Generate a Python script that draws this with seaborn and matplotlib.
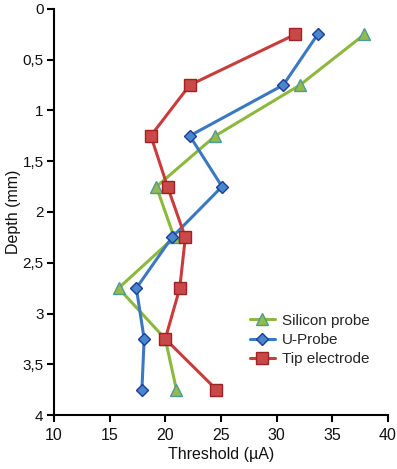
import pandas as pd
import matplotlib
matplotlib.use("Agg")
import matplotlib.pyplot as plt
import seaborn as sns
from matplotlib.ticker import FuncFormatter

# Profundidades (mm) e limiares (uA)
depth = [0.25, 0.75, 1.25, 1.75, 2.25, 2.75, 3.25, 3.75]
silicon = [37.9, 32.1, 24.5, 19.2, 20.8, 15.8, 20.0, 21.0]
uprobe = [33.7, 30.6, 22.2, 25.1, 20.6, 17.4, 18.1, 17.9]
tip = [31.7, 22.2, 18.7, 20.2, 21.8, 21.3, 20.0, 24.6]

series = ["Silicon probe", "U-Probe", "Tip electrode"]

df = pd.concat([
    pd.DataFrame({"depth": depth, "threshold": silicon, "probe": series[0]}),
    pd.DataFrame({"depth": depth, "threshold": uprobe, "probe": series[1]}),
    pd.DataFrame({"depth": depth, "threshold": tip, "probe": series[2]}),
])

sns.set_style("ticks")
plt.rcParams["font.family"] = ["Liberation Sans", "DejaVu Sans"]

estilos = {
    "Silicon probe": dict(color="#8cb83e", marker="^", mec="#4f9a96", mfc="#93bb4a"),
    "U-Probe": dict(color="#3b78c2", marker="D", mec="#1a3c9c", mfc="#4a86cc"),
    "Tip electrode": dict(color="#c83c3c", marker="s", mec="#a02222", mfc="#c94848"),
}
tamanho = {"Silicon probe": 8, "U-Probe": 6, "Tip electrode": 8}

fig = plt.figure(figsize=(3.97, 4.69), dpi=100)
ax = fig.add_axes([0.136, 0.115, 0.841, 0.866])

for nome in series:
    st = estilos[nome]
    sns.lineplot(data=df[df["probe"] == nome], x="threshold", y="depth",
                 orient="y", sort=False, ax=ax, label=nome,
                 color=st["color"], marker=st["marker"], markersize=tamanho[nome],
                 markeredgecolor=st["mec"], markerfacecolor=st["mfc"],
                 markeredgewidth=1.0, linewidth=2.2)

ax.set_xlim(10, 40)
ax.set_ylim(4, 0)
ax.set_xticks(range(10, 41, 5))
ax.set_yticks([i * 0.5 for i in range(9)])
ax.yaxis.set_major_formatter(FuncFormatter(
    lambda v, p: f"{v:g}".replace(".", ",")))
ax.set_xlabel("Threshold (\u00b5A)", fontsize=11.5, labelpad=3, color="#111111")
ax.set_ylabel("Depth (mm)", fontsize=11.5, labelpad=1, color="#111111")
ax.tick_params(width=1.5, length=5, color="black", labelsize=11.5,
               labelcolor="#111111", pad=4)
ax.tick_params(axis="y", labelsize=11, pad=2.5)
for s in ["left", "bottom"]:
    ax.spines[s].set_linewidth(1.5)
    ax.spines[s].set_color("black")
sns.despine(ax=ax)

ax.legend(loc="lower right", bbox_to_anchor=(0.965, 0.105), frameon=False,
          fontsize=11, handlelength=1.6, handletextpad=0.5, labelspacing=0.35,
          borderaxespad=0)

plt.savefig("out.png", dpi=100)
plt.close()
